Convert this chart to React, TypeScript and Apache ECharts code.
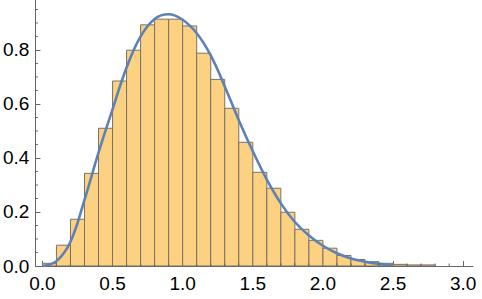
import React, { useEffect, useRef } from "react";
import * as echarts from "echarts";

// Histogram bins (start, end) and heights
const binStarts = [0.0, 0.1, 0.2, 0.3, 0.4, 0.5, 0.6, 0.7, 0.8, 0.9, 1.0, 1.1, 1.2, 1.3, 1.4, 1.5, 1.6, 1.7, 1.8, 1.9, 2.0, 2.1, 2.2, 2.3, 2.4, 2.5, 2.6, 2.7];
const binWidth = 0.1;
const binHeights = [0.01, 0.077, 0.173, 0.343, 0.51, 0.685, 0.799, 0.893, 0.914, 0.914, 0.889, 0.788, 0.691, 0.584, 0.458, 0.347, 0.288, 0.199, 0.136, 0.095, 0.066, 0.039, 0.024, 0.016, 0.01, 0.006, 0.004, 0.004];

// Density curve
const curveX = [0.0, 0.1, 0.2, 0.3, 0.4, 0.5, 0.6, 0.7, 0.8, 0.9, 1.0, 1.1, 1.2, 1.3, 1.4, 1.5, 1.6, 1.7, 1.8, 1.9, 2.0, 2.1, 2.2, 2.3, 2.4, 2.5];
const curveY = [0.0, 0.018, 0.09, 0.245, 0.42, 0.58, 0.735, 0.85, 0.915, 0.932, 0.912, 0.862, 0.78, 0.665, 0.54, 0.425, 0.32, 0.232, 0.163, 0.113, 0.075, 0.047, 0.028, 0.016, 0.008, 0.003];

const xMajor = [0, 0.5, 1.0, 1.5, 2.0, 2.5, 3.0];
const xMinor = [0.1, 0.2, 0.3, 0.4, 0.6, 0.7, 0.8, 0.9, 1.1, 1.2, 1.3, 1.4, 1.6, 1.7, 1.8, 1.9, 2.1, 2.2, 2.3, 2.4, 2.6, 2.7, 2.8, 2.9];
const yMajor = [0, 0.2, 0.4, 0.6, 0.8];
const yMinor = [0.05, 0.1, 0.15, 0.25, 0.3, 0.35, 0.45, 0.5, 0.55, 0.65, 0.7, 0.75, 0.85, 0.9, 0.95];

const X_MIN = -0.05;
const X_MAX = 3.07;
const Y_MIN = 0;
const Y_MAX = 0.985;

const AXIS_COLOR = "#666666";
const MINOR_LEN = 2.5;

export default function App() {
  const ref = useRef<HTMLDivElement>(null);

  useEffect(() => {
    if (!ref.current) return;
    const chart = echarts.init(ref.current, null, { renderer: "svg" });

    const barData = binStarts.map((s, i) => [s, s + binWidth, binHeights[i]]);
    const lineData = curveX.map((x, i) => [x, curveY[i]]);

    const textStyle = {
      color: "#000000",
      fontFamily: "Liberation Sans, Arial, sans-serif",
      fontSize: 19,
    };

    chart.setOption({
      animation: false,
      grid: { left: 35, right: 9, top: 0, bottom: 33, containLabel: false },
      xAxis: {
        type: "value",
        min: X_MIN,
        max: X_MAX,
        position: "bottom",
        axisLine: { show: true, onZero: false, lineStyle: { color: AXIS_COLOR, width: 1 } },
        axisTick: { show: true, inside: true, length: 5, customValues: xMajor, lineStyle: { color: AXIS_COLOR } },
        axisLabel: {
          show: true,
          customValues: xMajor,
          margin: 8,
          formatter: (v: number) => v.toFixed(1),
          ...textStyle,
        },
        splitLine: { show: false },
      },
      yAxis: {
        type: "value",
        min: Y_MIN,
        max: Y_MAX,
        position: "left",
        axisLine: { show: true, onZero: false, lineStyle: { color: AXIS_COLOR, width: 1 } },
        axisTick: { show: true, inside: true, length: 5, customValues: yMajor, lineStyle: { color: AXIS_COLOR } },
        axisLabel: {
          show: true,
          customValues: yMajor,
          margin: 6,
          formatter: (v: number) => v.toFixed(1),
          ...textStyle,
        },
        splitLine: { show: false },
      },
      series: [
        {
          type: "custom",
          data: barData,
          encode: { x: [0, 1], y: 2 },
          clip: true,
          renderItem: (_params: any, api: any) => {
            const x0 = api.value(0);
            const x1 = api.value(1);
            const v = api.value(2);
            const pTop = api.coord([x0, v]);
            const pBot = api.coord([x1, 0]);
            return {
              type: "rect",
              shape: {
                x: pTop[0],
                y: pTop[1],
                width: pBot[0] - pTop[0],
                height: pBot[1] - pTop[1],
              },
              style: {
                fill: "#FCD182",
                stroke: "#7a7268",
                lineWidth: 1,
              },
            };
          },
          z: 1,
        },
        {
          // minor ticks on the x axis
          type: "custom",
          data: xMinor.map((x) => [x, 0]),
          encode: { x: 0, y: 1 },
          clip: false,
          silent: true,
          renderItem: (_params: any, api: any) => {
            const p = api.coord([api.value(0), 0]);
            return {
              type: "line",
              shape: { x1: p[0], y1: p[1], x2: p[0], y2: p[1] - MINOR_LEN },
              style: { stroke: AXIS_COLOR, lineWidth: 1 },
            };
          },
          z: 5,
        },
        {
          // minor ticks on the y axis
          type: "custom",
          data: yMinor.map((y) => [X_MIN, y]),
          encode: { x: 0, y: 1 },
          clip: false,
          silent: true,
          renderItem: (_params: any, api: any) => {
            const p = api.coord([X_MIN, api.value(1)]);
            return {
              type: "line",
              shape: { x1: p[0], y1: p[1], x2: p[0] + MINOR_LEN, y2: p[1] },
              style: { stroke: AXIS_COLOR, lineWidth: 1 },
            };
          },
          z: 5,
        },
        {
          type: "line",
          data: lineData,
          smooth: 0.4,
          showSymbol: false,
          symbol: "none",
          lineStyle: { color: "#5E81B5", width: 2.6 },
          z: 3,
        },
      ],
    });

    return () => {
      chart.dispose();
    };
  }, []);

  return (
    <div
      ref={ref}
      style={{ position: "fixed", left: 0, top: 0, width: 482, height: 299, background: "#ffffff" }}
    />
  );
}
